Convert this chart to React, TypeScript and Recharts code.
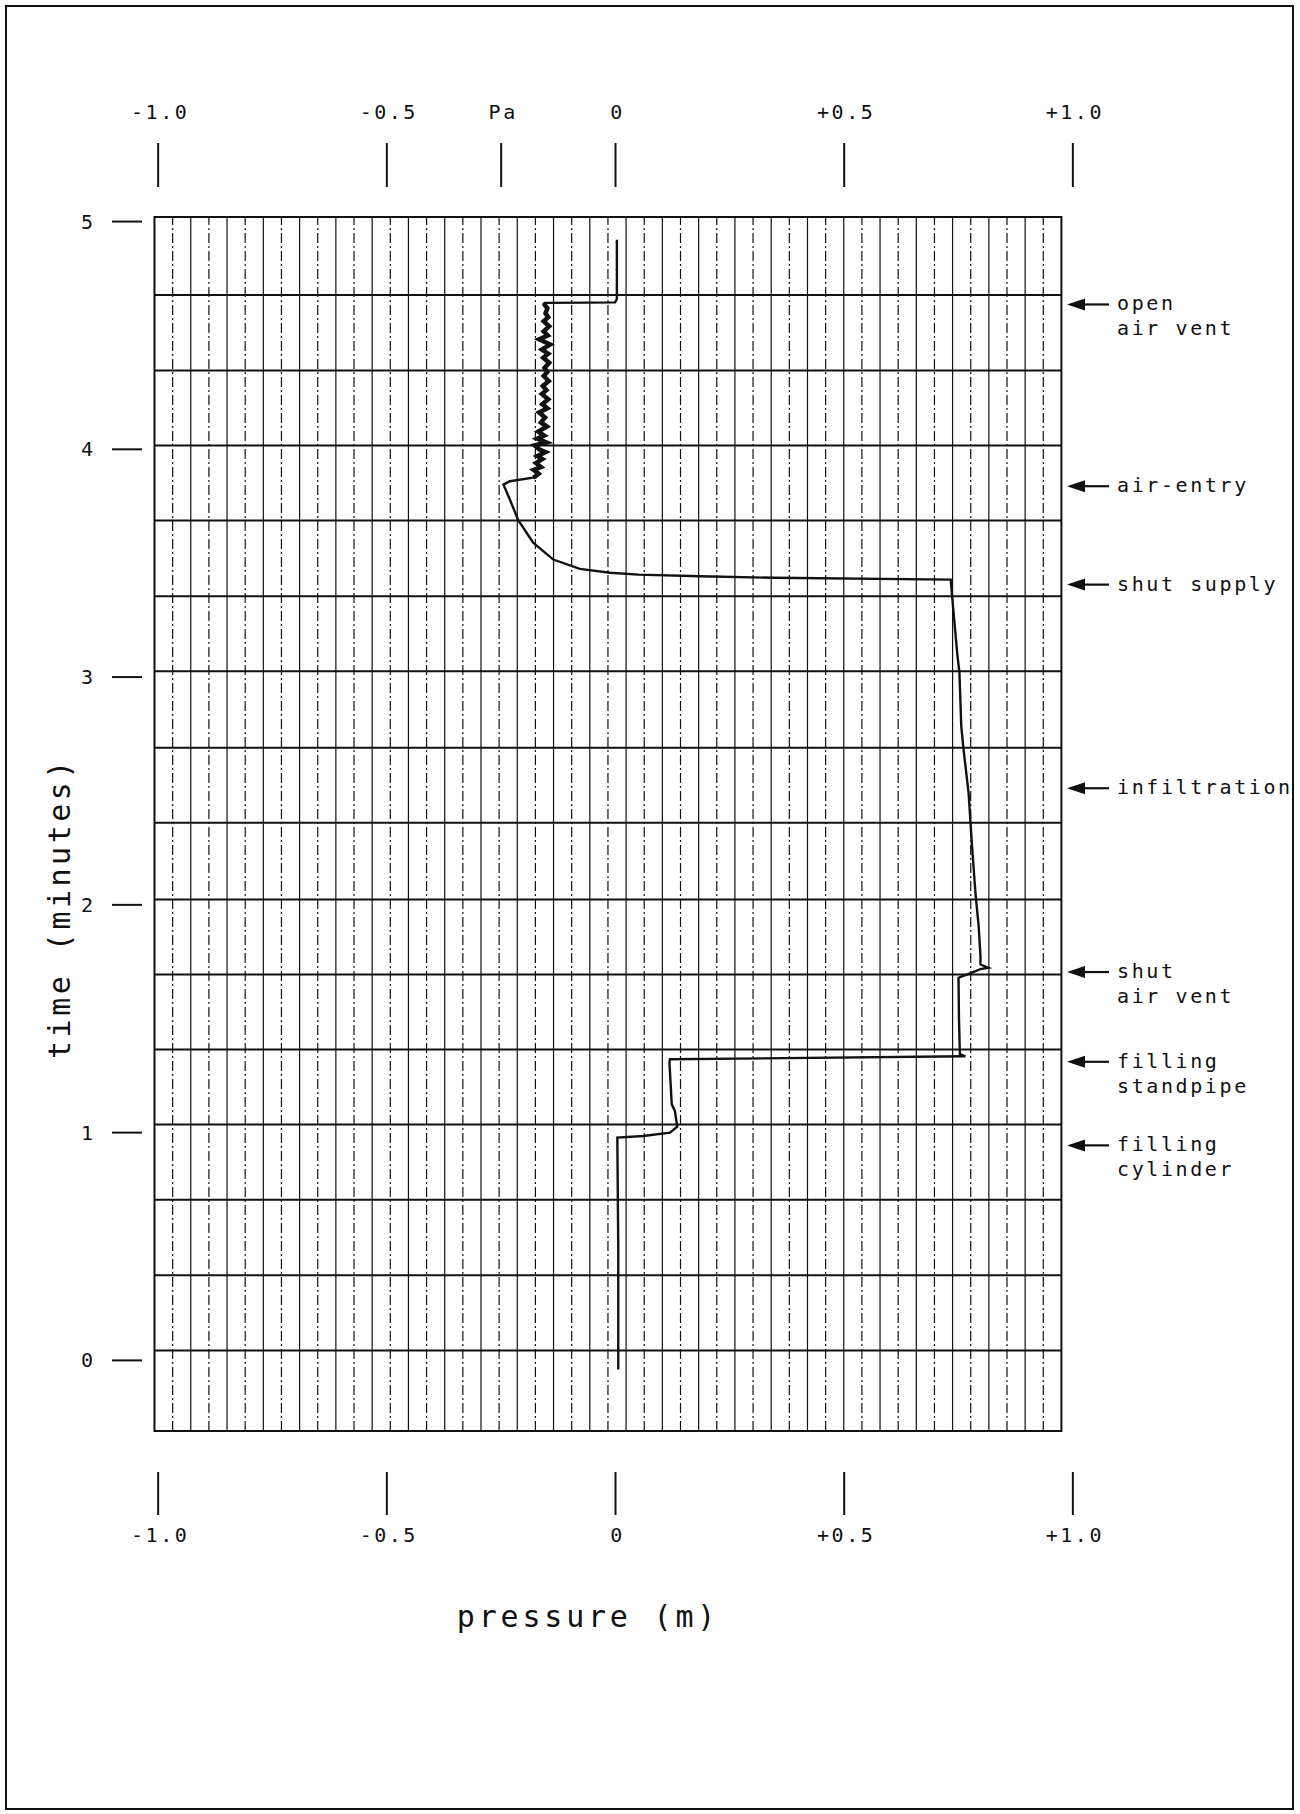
import { ReferenceArea, ReferenceLine, Scatter, ScatterChart, XAxis, YAxis } from "recharts"

// recorder trace: pressure (m) against time (minutes), in drawing order
const pressure = [
  0.006, 0.006, 0.004, 0.061, 0.119, 0.135, 0.13, 0.123, 0.118, 0.119,
  0.765, 0.753, 0.751, 0.75, 0.768, 0.798, 0.815, 0.798, 0.798, 0.794,
  0.787, 0.779, 0.772, 0.761, 0.756, 0.752, 0.747, 0.736, 0.733,
  0.345, 0.185, 0.05, -0.012, -0.078, -0.136, -0.18, -0.213, -0.231, -0.245,
  -0.231, -0.18,
  -0.176, -0.168, -0.179, -0.163, -0.174, -0.16, -0.171, -0.153, -0.167, -0.177,
  -0.151, -0.171, -0.156, -0.169, -0.15, -0.163, -0.154, -0.167, -0.149, -0.16,
  -0.147, -0.161, -0.151, -0.159, -0.146, -0.157, -0.149, -0.155, -0.145, -0.158,
  -0.147, -0.161, -0.143, -0.167, -0.148, -0.157, -0.145, -0.157, -0.147, -0.153,
  -0.149, -0.155,
  -0.154, -0.06, -0.001, 0.003, 0.003,
]
const time = [
  -0.04, 0.5, 0.978, 0.985, 1.0, 1.026, 1.094, 1.124, 1.307, 1.322,
  1.335, 1.345, 1.5, 1.68, 1.694, 1.718, 1.724, 1.738, 1.775, 1.907,
  2.053, 2.273, 2.492, 2.682, 2.785, 3.019, 3.107, 3.355, 3.428,
  3.436, 3.443, 3.45, 3.458, 3.475, 3.516, 3.59, 3.69, 3.78, 3.845,
  3.86, 3.876,
  3.88, 3.893, 3.91, 3.922, 3.94, 3.957, 3.97, 3.988, 4.0, 4.017,
  4.03, 4.047, 4.06, 4.078, 4.1, 4.118, 4.14, 4.162, 4.18, 4.198,
  4.22, 4.243, 4.26, 4.278, 4.3, 4.322, 4.34, 4.357, 4.38, 4.402,
  4.42, 4.438, 4.46, 4.483, 4.5, 4.518, 4.54, 4.562, 4.58, 4.597,
  4.62, 4.635,
  4.643, 4.644, 4.645, 4.66, 4.92,
]
// samples where the pen chatters (air entering the cylinder)
const chatterStart = 40
const chatterEnd = 84

const pressureTicks = [-1, -0.5, 0, 0.5, 1]
const pressureTickLabels = ["-1.0", "-0.5", "0", "+0.5", "+1.0"]
const topTicks = [-1, -0.5, -0.25, 0, 0.5, 1]
const topTickLabels = ["-1.0", "-0.5", "Pa", "0", "+0.5", "+1.0"]
const timeTicks = [0, 1, 2, 3, 4, 5]

const eventTimes = [4.636, 3.838, 3.406, 2.512, 1.705, 1.311, 0.944]
const eventLabels = [
  ["open", "air vent"],
  ["air-entry"],
  ["shut supply"],
  ["infiltration"],
  ["shut", "air vent"],
  ["filling", "standpipe"],
  ["filling", "cylinder"],
]

// the chart paper: heavy rows and 50 ruled columns
const paperRows = [0.043, 0.374, 0.705, 1.036, 1.365, 1.694, 2.024, 2.36, 2.69, 3.026, 3.355, 3.687, 4.017, 4.346, 4.677]
const paperLeft = -1.008
const paperRight = 0.975
const paperColumnCount = 50

const trace = pressure.map((p, i) => ({ p, t: time[i] }))
const chatter = trace.slice(chatterStart, chatterEnd)
const paperColumns = Array.from({ length: paperColumnCount - 1 }, (_, i) => paperLeft + ((i + 1) * (paperRight - paperLeft)) / paperColumnCount)

const xDomain = [-1.02, 1.02]
const yDomain = [-0.31, 5.02]
const ink = "#111"
const font = "'DejaVu Sans Mono', monospace"

function TopTick(props: any) {
  const { x, y, payload } = props
  const label = topTickLabels[topTicks.indexOf(payload.value)]
  return (
    <g>
      <line x1={x} x2={x} y1={y - 74} y2={y - 30} stroke={ink} strokeWidth={2} />
      <text x={x + 2} y={y - 98} textAnchor="middle" fontFamily={font} fontSize={20} letterSpacing={2.5} fill={ink}>
        {label}
      </text>
    </g>
  )
}

function BottomTick(props: any) {
  const { x, y, payload } = props
  const label = pressureTickLabels[pressureTicks.indexOf(payload.value)]
  return (
    <g>
      <line x1={x} x2={x} y1={y + 41} y2={y + 84} stroke={ink} strokeWidth={2} />
      <text x={x + 2} y={y + 111} textAnchor="middle" fontFamily={font} fontSize={20} letterSpacing={2.5} fill={ink}>
        {label}
      </text>
    </g>
  )
}

function TimeTick(props: any) {
  const { x, y, payload } = props
  return (
    <g>
      <line x1={x - 37} x2={x - 7} y1={y} y2={y} stroke={ink} strokeWidth={2} />
      <text x={x - 62} y={y + 7} textAnchor="middle" fontFamily={font} fontSize={20} fill={ink}>
        {payload.value}
      </text>
    </g>
  )
}

function EventTick(props: any) {
  const { x, y, payload } = props
  const lines = eventLabels[eventTimes.indexOf(payload.value)] || []
  return (
    <g>
      <polygon points={`${x - 15},${y} ${x + 3},${y - 6} ${x + 3},${y + 6}`} fill={ink} />
      <line x1={x} x2={x + 27} y1={y} y2={y} stroke={ink} strokeWidth={2.2} />
      {lines.map((s, i) => (
        <text key={i} x={x + 35} y={y + 6 + i * 25} fontFamily={font} fontSize={20} letterSpacing={2.6} fill={ink}>
          {s}
        </text>
      ))}
    </g>
  )
}

const noMark = () => <g />

export default function App() {
  return (
    <div style={{ position: "absolute", left: 0, top: 0, width: 1300, height: 1814, background: "#fff" }}>
      <div style={{ position: "absolute", left: 5, top: 5, width: 1285, height: 1801, border: `2px solid ${ink}` }} />
      <ScatterChart width={1300} height={1814} margin={{ top: 97, right: 18, bottom: 253, left: 49 }}>
        <XAxis
          dataKey="p"
          type="number"
          domain={xDomain}
          ticks={pressureTicks}
          interval={0}
          height={130}
          axisLine={false}
          tickLine={false}
          tickSize={0}
          tickMargin={0}
          tick={BottomTick}
        />
        <XAxis
          xAxisId="top"
          dataKey="p"
          orientation="top"
          type="number"
          domain={xDomain}
          ticks={topTicks}
          interval={0}
          height={120}
          axisLine={false}
          tickLine={false}
          tickSize={0}
          tickMargin={0}
          tick={TopTick}
        />
        <YAxis
          dataKey="t"
          type="number"
          domain={yDomain}
          ticks={timeTicks}
          interval={0}
          width={100}
          axisLine={false}
          tickLine={false}
          tickSize={0}
          tickMargin={0}
          tick={TimeTick}
        />
        <YAxis
          yAxisId="events"
          dataKey="t"
          orientation="right"
          type="number"
          domain={yDomain}
          ticks={eventTimes}
          interval={0}
          width={200}
          axisLine={false}
          tickLine={false}
          tickSize={0}
          tickMargin={0}
          tick={EventTick}
        />
        {paperColumns.map((v, i) => (
          <ReferenceLine
            key={"c" + i}
            x={v}
            stroke={ink}
            strokeWidth={1.2}
            strokeDasharray={i % 2 === 0 ? "10 3 2 3" : undefined}
          />
        ))}
        {paperRows.map((t, i) => (
          <ReferenceLine
            key={"r" + i}
            segment={[{ x: paperLeft, y: t }, { x: paperRight, y: t }]}
            stroke={ink}
            strokeWidth={2}
          />
        ))}
        <ReferenceArea
          x1={paperLeft}
          x2={paperRight}
          y1={yDomain[0]}
          y2={yDomain[1]}
          fill="none"
          fillOpacity={0}
          stroke={ink}
          strokeWidth={2}
        />
        <Scatter
          data={trace}
          line={{ stroke: ink, strokeWidth: 2.4 }}
          shape={noMark}
          isAnimationActive={false}
        />
        <Scatter
          data={chatter}
          line={{ stroke: ink, strokeWidth: 4.5 }}
          shape={noMark}
          isAnimationActive={false}
        />
        <Scatter
          xAxisId="top"
          yAxisId="events"
          data={trace}
          shape={noMark}
          isAnimationActive={false}
        />
      </ScatterChart>
      <svg width={1300} height={1814} style={{ position: "absolute", left: 0, top: 0, pointerEvents: "none" }}>
        <text x={588} y={1627} textAnchor="middle" fontFamily={font} fontSize={30} letterSpacing={3.8} fill={ink}>
          pressure (m)
        </text>
        <text
          x={70}
          y={908}
          textAnchor="middle"
          transform="rotate(-90 70 908)"
          fontFamily={font}
          fontSize={30}
          letterSpacing={3.5}
          fill={ink}
        >
          time (minutes)
        </text>
      </svg>
    </div>
  )
}
